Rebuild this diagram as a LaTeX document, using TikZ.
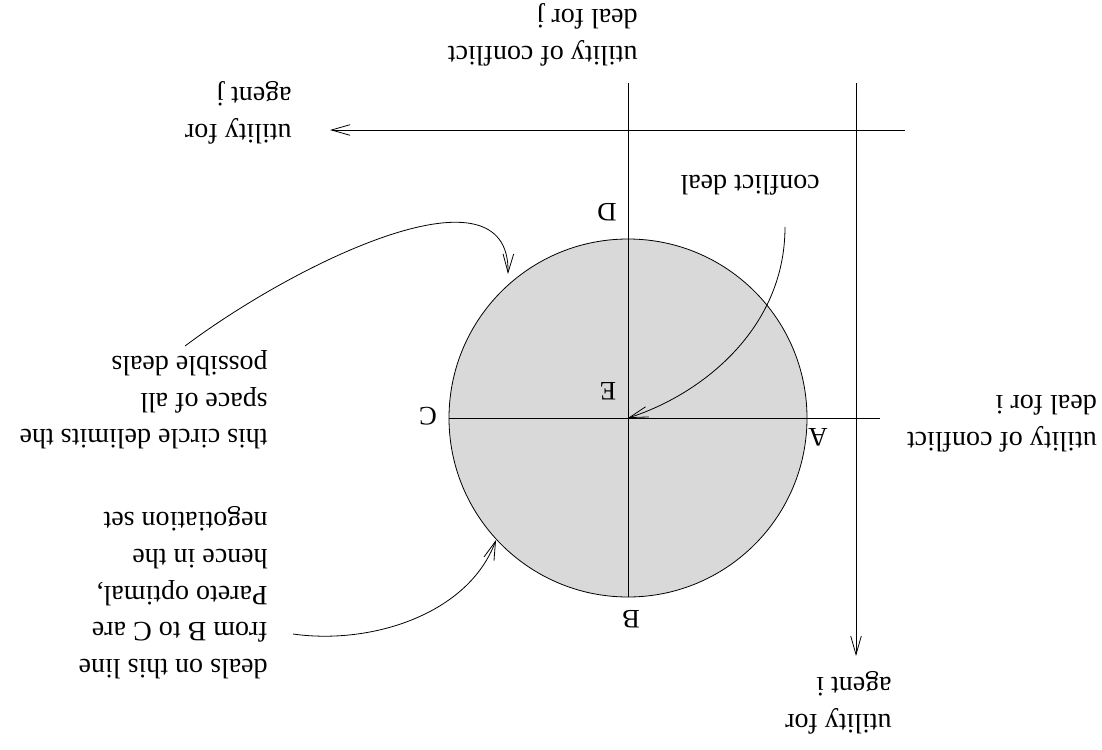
\documentclass[tikz,border=0pt]{standalone}
\usepackage{fontspec}
\setmainfont{Liberation Serif}
\usetikzlibrary{arrows.meta}
\definecolor{dealgray}{RGB}{217,217,217}
\tikzset{
  lbl/.style={rotate=180, anchor=west, align=left, inner sep=0pt, font=\fontsize{21}{27.5}\selectfont},
  letter/.style={rotate=180, inner sep=0pt, font=\fontsize{20}{24}\selectfont},
  ln/.style={line width=0.6pt, black},
  arr/.style={line width=0.6pt, black, -{Straight Barb[length=14pt,width=8pt,line width=0.6pt]}},
}
\begin{document}
\begin{tikzpicture}[x=0.75pt,y=-0.75pt]
\useasboundingbox (0,0) rectangle (1102,749);
% circle of deals
\coordinate (E) at (628,418);
\node[circle, draw, ln, fill=dealgray, minimum size=268.5pt, inner sep=0pt] (circ) at (E) {};
% axes
\coordinate (jR) at (905,130);
\coordinate (jL) at (330,130);
\coordinate (iT) at (856,83);
\coordinate (iB) at (856,656);
\coordinate (vT) at (628,83);
\coordinate (hR) at (880,418);
\draw[arr] (jR) -- (jL);
\draw[arr] (iT) -- (iB);
\draw[ln] (vT) -- (circ.south);
\draw[ln] (circ.west) -- (hR);
% point labels
\node[letter] (lD) at (607,212) {D};
\node[letter] (lE) at (608,391) {E};
\node[letter] (lC) at (428,416) {C};
\node[letter] (lA) at (818,437) {A};
\node[letter] (lB) at (631,619) {B};
% text labels (anchor west = right edge in the picture)
\node[lbl] (uj) at (292,113) {utility for\\agent j};
\node[lbl] (ucj) at (638,35) {utility of conflict\\deal for j};
\node[lbl] (cd) at (820,185) {conflict deal};
\node[lbl] (uci) at (1097,424) {utility of conflict\\deal for i};
\node[lbl] (ui) at (892,703) {utility for\\agent i};
\node[lbl] (circtxt) at (268,400) {this circle delimits the\\space of all\\possible deals};
\node[lbl] (pareto) at (268,593) {deals on this line\\from B to C are\\Pareto optimal,\\hence in the\\negotiation set};
% annotation arrows
\coordinate (cdS) at (785,227);
\coordinate (ctS) at (185,346);
\coordinate (ctT) at (508,274);
\coordinate (paS) at (293,634);
\coordinate (paT) at (496,540);
\draw[arr] (cdS) .. controls (785,330) and (700,395) .. (E);
\draw[arr] (ctS) .. controls (300,260) and (510,160) .. (ctT);
\draw[arr] (paS) .. controls (370,645) and (468,615) .. (paT);
\end{tikzpicture}
\end{document}
